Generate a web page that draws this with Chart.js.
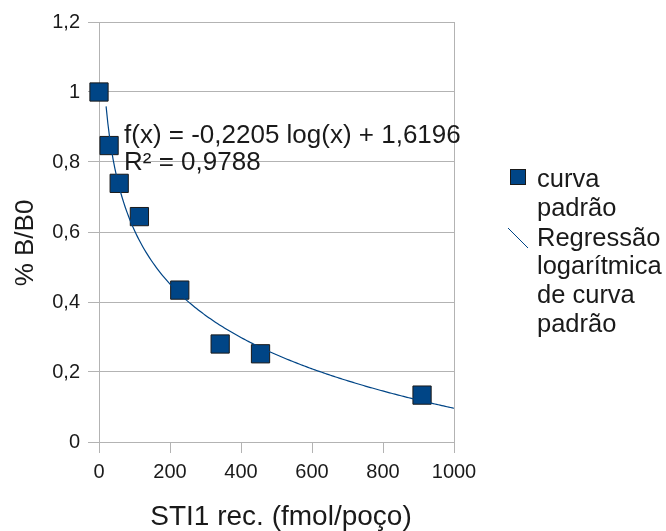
<!DOCTYPE html>
<html>
<head>
<meta charset="utf-8">
<script src="https://cdn.jsdelivr.net/npm/chart.js@4.4.1/dist/chart.umd.min.js"></script>
<style>
  html, body { margin: 0; padding: 0; background: #fff; }
  #wrap { width: 666px; height: 531px; }
</style>
</head>
<body>
<div id="wrap"><canvas id="c" width="666" height="531"></canvas></div>
<script>
// Standard curve: STI1 amount per well vs. %B/B0
const concentrations = [0, 28.4, 56.9, 113.8, 227.5, 341.3, 455, 910];
const bb0Values = [1.0, 0.847, 0.739, 0.644, 0.434, 0.280, 0.252, 0.134];

// Logarithmic regression reported on the chart: f(x) = a·ln(x) + b
const regA = -0.2205;
const regB = 1.6196;
const regR2 = 0.9788;
const regStart = 20;
const regEnd = 1000;

const xTickLabels = ['0', '200', '400', '600', '800', '1000'];
const yTickLabels = ['0', '0,2', '0,4', '0,6', '0,8', '1', '1,2'];

const seriesName = ['curva', 'padrão'];
const trendName = ['Regressão', 'logarítmica', 'de curva', 'padrão'];
const xTitle = 'STI1 rec. (fmol/poço)';
const yTitle = '% B/B0';

const BLUE = '#004586';
const GRID = '#b3b3b3';
const TEXT = '#1a1a1a';
const FONT = '"Liberation Sans", Arial, sans-serif';

const fmt = n => String(n).replace('.', ',');

// trend line sampled along the reported regression
const trendPoints = [];
for (let i = 0; i <= 200; i++) {
  const x = regStart + (regEnd - regStart) * i / 200;
  trendPoints.push({ x, y: regA * Math.log(x) + regB });
}

const overlay = {
  id: 'overlay',
  afterDraw(chart) {
    const ctx = chart.ctx;
    ctx.save();
    ctx.fillStyle = TEXT;
    ctx.textBaseline = 'alphabetic';
    ctx.textAlign = 'left';

    // regression equation
    ctx.font = '26px ' + FONT;
    ctx.fillText('f(x) = ' + fmt(regA) + ' log(x) + ' + fmt(regB), 124, 143);
    ctx.fillText('R² = ' + fmt(regR2), 124, 170);

    // axis titles
    ctx.font = '28px ' + FONT;
    ctx.textAlign = 'center';
    ctx.fillText(xTitle, 281, 525);
    ctx.font = '26px ' + FONT;
    ctx.save();
    ctx.translate(33, 243);
    ctx.rotate(-Math.PI / 2);
    ctx.fillText(yTitle, 0, 0);
    ctx.restore();

    // legend
    ctx.textAlign = 'left';
    ctx.font = '25.5px ' + FONT;
    ctx.fillStyle = BLUE;
    ctx.strokeStyle = '#1a1a1a';
    ctx.lineWidth = 1;
    ctx.fillRect(510.5, 169.5, 15, 15);
    ctx.strokeRect(510.5, 169.5, 15, 15);
    ctx.strokeStyle = BLUE;
    ctx.beginPath();
    ctx.moveTo(508, 228);
    ctx.lineTo(528, 248);
    ctx.stroke();
    ctx.fillStyle = TEXT;
    const lh = 28.8;
    seriesName.forEach((t, i) => ctx.fillText(t, 537, 187 + i * lh));
    trendName.forEach((t, i) => ctx.fillText(t, 537, 245.5 + i * lh));
    ctx.restore();
  }
};

new Chart(document.getElementById('c'), {
  type: 'scatter',
  data: {
    datasets: [
      {
        type: 'line',
        label: 'Regressão logarítmica de curva padrão',
        data: trendPoints,
        borderColor: BLUE,
        borderWidth: 1.2,
        pointRadius: 0,
        fill: false,
        tension: 0
      },
      {
        label: 'curva padrão',
        data: concentrations.map((x, i) => ({ x, y: bb0Values[i] })),
        pointStyle: 'rect',
        pointRadius: 12.9,
        pointHoverRadius: 12.9,
        backgroundColor: BLUE,
        borderColor: '#1a1a1a',
        borderWidth: 1,
        clip: false
      }
    ]
  },
  options: {
    responsive: false,
    animation: false,
    devicePixelRatio: 1,
    layout: { padding: { left: 0, top: 22, right: 212, bottom: 0 } },
    plugins: {
      legend: { display: false },
      tooltip: { enabled: false }
    },
    scales: {
      x: {
        type: 'linear',
        min: 0,
        max: 1000,
        afterFit(s) { s.height = 89; },
        afterBuildTicks(s) { s.ticks = xTickLabels.map(t => ({ value: Number(t) })); },
        ticks: {
          callback: (v, i) => xTickLabels[i],
          font: { family: FONT, size: 20 },
          color: TEXT,
          padding: 7,
          maxRotation: 0
        },
        grid: {
          color: ctx => (ctx.tick && ctx.tick.value === 1000 ? GRID : 'rgba(0,0,0,0)'),
          tickColor: GRID,
          tickLength: 11,
          lineWidth: 1
        },
        border: { color: GRID }
      },
      y: {
        min: 0,
        max: 1.2,
        afterFit(s) { s.width = 99; },
        afterBuildTicks(s) { s.ticks = yTickLabels.map(t => ({ value: Number(t.replace(',', '.')) })); },
        ticks: {
          callback: (v, i) => yTickLabels[i],
          font: { family: FONT, size: 20 },
          color: TEXT,
          padding: 8
        },
        grid: {
          color: GRID,
          tickColor: GRID,
          tickLength: 11,
          lineWidth: 1
        },
        border: { color: GRID }
      }
    }
  },
  plugins: [overlay]
});
</script>
</body>
</html>
